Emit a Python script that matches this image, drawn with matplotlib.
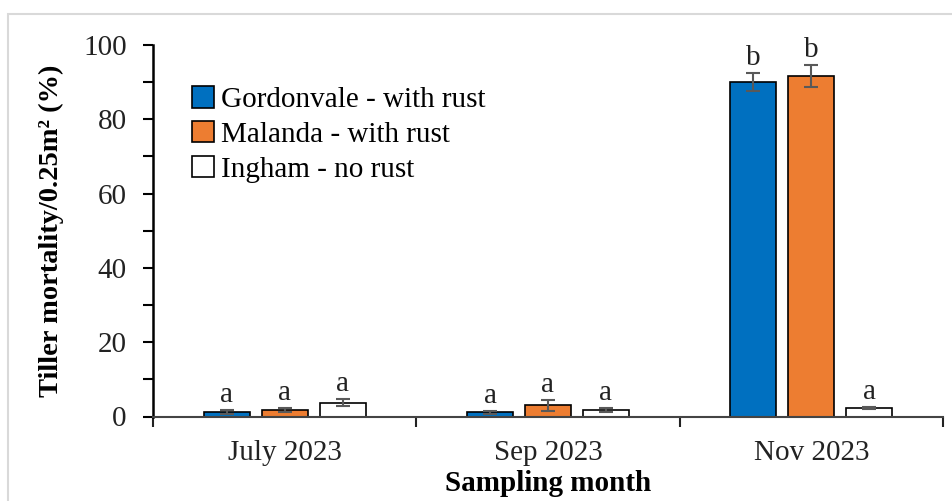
import matplotlib
matplotlib.use("Agg")
import matplotlib.pyplot as plt
import numpy as np
from matplotlib.patches import Rectangle

months = ["July 2023", "Sep 2023", "Nov 2023"]
series = ["Gordonvale - with rust", "Malanda - with rust", "Ingham - no rust"]
gordonvale = [1.2, 1.2, 90.0]
malanda = [1.8, 3.0, 91.7]
ingham = [3.7, 1.8, 2.3]
gordonvale_err = [0.6, 0.4, 2.5]
malanda_err = [0.6, 1.5, 2.9]
ingham_err = [1.0, 0.5, 0.3]
letters = [["a", "a", "b"], ["a", "a", "b"], ["a", "a", "a"]]

values = [gordonvale, malanda, ingham]
errs = [gordonvale_err, malanda_err, ingham_err]
colors = ["#0070C0", "#ED7D31", "#FFFFFF"]

plt.rcParams['font.family'] = ['Liberation Serif', 'DejaVu Serif']

fig = plt.figure(figsize=(9.53, 5.01), dpi=100)
fig.patches.append(Rectangle((8/953, -0.1), 1.2, (501-14)/501 + 0.1, transform=fig.transFigure,
                             fill=False, edgecolor="#d9d9d9", linewidth=1.5))
ax = fig.add_axes([153/953, (501-416.5)/501, 790/953, 371.5/501])

x = np.arange(len(months))
bw = 0.175
step = 0.22
for i, (vals, er, c, name) in enumerate(zip(values, errs, colors, series)):
    pos = x + (i - 1) * step
    ax.bar(pos, vals, width=bw, color=c, edgecolor="black", linewidth=1.2, label=name, zorder=2)
    ax.errorbar(pos, vals, yerr=er, fmt="none", ecolor="#595959", elinewidth=1.5,
                capsize=5, capthick=1.5, zorder=3)
    for p, v, e, l in zip(pos, vals, er, letters[i]):
        ax.text(p, v + e + 0.5, l, ha="center", va="bottom", fontsize=21, color="#222222")

ax.set_xlim(-0.5, 2.5)
ax.set_ylim(0, 100)
ax.set_yticks(np.arange(0, 101, 20))
ax.set_yticks(np.arange(0, 101, 10), minor=True)
ax.set_xticks(x)
ax.set_xticklabels(months, fontsize=21, color="#222222")
ax.set_xticks([-0.5, 0.5, 1.5, 2.5], minor=True)
ax.tick_params(axis="x", which="major", length=0, pad=17)
ax.tick_params(axis="x", which="minor", length=7, width=1.5, direction="out", color="#222222")
ax.tick_params(axis="y", which="major", length=7, width=1.5, direction="out", labelsize=21,
               labelcolor="#222222", pad=12)
ax.tick_params(axis="y", which="minor", length=7, width=1.5, direction="out")
for s in ["top", "right"]:
    ax.spines[s].set_visible(False)
ax.spines["left"].set_linewidth(1.8)
ax.spines["bottom"].set_linewidth(1.5)
ax.spines["bottom"].set_color("#444444")

ax.set_ylabel("Tiller mortality/0.25m² (%)", fontsize=20.5, fontweight="bold", labelpad=14)
ax.set_xlabel("Sampling month", fontsize=21, fontweight="bold", labelpad=3)

leg = ax.legend(loc="upper left", bbox_to_anchor=(0.035, 0.92), frameon=False, fontsize=21,
                handlelength=0.75, handleheight=0.75, handletextpad=0.25, labelspacing=0.27,
                borderaxespad=0)

fig.savefig("out.png", dpi=100)
